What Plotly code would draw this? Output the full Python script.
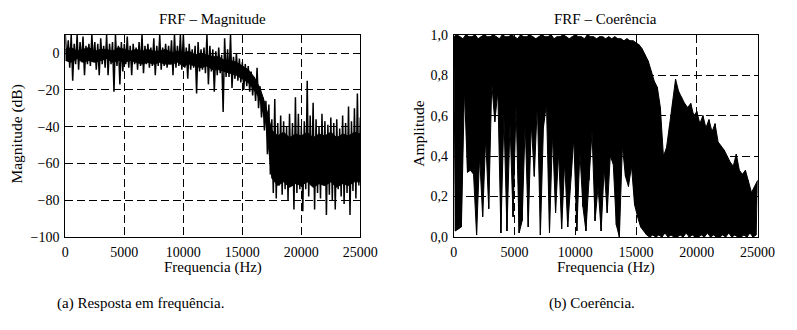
import plotly.graph_objects as go

# Frequency grid (Hz): upper samples on the 250 Hz grid, lower samples between them
freq_hi = list(range(0, 25001, 250))
freq_lo = list(range(125, 25000, 250))
# Coarser grid for the dense core of the magnitude spectrum
freq_core = list(range(0, 25001, 500))

# FRF magnitude (dB): upper / lower excursion of the spectrum in each band
mag_hi = [10, 7, 10, 5, 10, 6, 9, 4, 5, 10,
          6, 5, 8, 4, 10, 5, 6, 10, 4, 6,
          5, 9, 4, 5, 3, 6, 10, 4, 5, 3,
          8, 4, 10, 3, 5, 4, 7, 10, 4, 10,
          10, 3, 5, 2, 4, 6, 2, 3, 10, 4,
          2, 1, 3, -1, 8, 2, 10, -2, 0, -3,
          -5, -6, -7, -10, -13, -8, -18, -24, -26, -28,
          -36, -25, -38, -34, -37, -40, -33, -38, -24, -33,
          -40, -37, -15, -34, -27, -36, -40, -33, -37, -39,
          -35, -38, -36, -41, -34, -38, -29, -37, -30, -22, -35]
mag_lo = [-4, -8, -15, -6, -9, -5, -12, -6, -7, -5,
          -9, -12, -6, -8, -12, -6, -21, -7, -17, -10,
          -6, -8, -12, -6, -9, -7, -11, -6, -8, -7,
          -12, -7, -9, -7, -8, -6, -12, -8, -7, -9,
          -8, -14, -9, -8, -22, -10, -9, -11, -17, -10,
          -21, -12, -11, -32, -13, -13, -19, -14, -15, -16,
          -20, -18, -21, -23, -26, -30, -35, -42, -55, -66,
          -76, -79, -72, -77, -74, -80, -72, -85, -76, -74,
          -86, -74, -78, -72, -85, -76, -79, -72, -88, -77,
          -80, -85, -74, -78, -82, -76, -88, -75, -79, -72]
# Dense core of the magnitude spectrum (dB), top and bottom
mag_core_hi = [2, 3, 1, 2, 3, 1, 2, 2, 1, 3,
               2, 1, 2, 1, 2, 1, 1, 2, 0, 1,
               0, 1, -1, 0, -1, -2, -2, -4, -4, -5,
               -7, -9, -13, -19, -29, -42, -45, -43, -46, -44,
               -45, -43, -46, -44, -45, -43, -46, -44, -45, -43, -44]
mag_core_lo = [-4, -5, -3, -5, -4, -5, -4, -3, -5, -4,
               -5, -4, -5, -6, -5, -6, -5, -6, -6, -5,
               -7, -6, -7, -8, -7, -9, -9, -10, -11, -12,
               -14, -16, -20, -25, -38, -68, -72, -70, -73, -71,
               -72, -70, -73, -71, -72, -70, -73, -71, -72, -70, -70]

# Coherence: upper / lower excursion in each band
coh_hi = [0.99, 1.0, 0.99, 0.98, 1.0, 0.99, 0.99, 1.0, 0.98, 0.99,
          1.0, 0.99, 0.99, 1.0, 0.99, 0.98, 1.0, 0.99, 0.99, 1.0,
          0.99, 0.98, 1.0, 0.99, 0.99, 1.0, 0.99, 0.98, 0.99, 1.0,
          0.99, 0.99, 1.0, 0.98, 0.99, 0.99, 1.0, 0.99, 0.98, 0.99,
          1.0, 0.99, 0.99, 0.98, 1.0, 0.99, 0.99, 0.98, 0.99, 0.99,
          0.98, 0.99, 0.98, 0.99, 0.98, 0.98, 0.97, 0.98, 0.97, 0.97,
          0.96, 0.95, 0.93, 0.90, 0.87, 0.82, 0.77, 0.74, 0.64, 0.40,
          0.44, 0.55, 0.66, 0.78, 0.72, 0.69, 0.66, 0.64, 0.66, 0.60,
          0.62, 0.56, 0.60, 0.54, 0.58, 0.52, 0.56, 0.47, 0.45, 0.43,
          0.40, 0.37, 0.35, 0.41, 0.33, 0.31, 0.33, 0.28, 0.22, 0.25, 0.28]
coh_lo = [0.03, 0.04, 0.05, 0.73, 0.32, 0.33, 0.31, 0.01, 0.40, 0.10,
          0.49, 0.14, 0.76, 0.57, 0.72, 0.02, 0.60, 0.03, 0.56, 0.10,
          0.65, 0.02, 0.08, 0.56, 0.05, 0.56, 0.30, 0.66, 0.01, 0.54,
          0.66, 0.02, 0.51, 0.12, 0.42, 0.04, 0.37, 0.05, 0.30, 0.49,
          0.03, 0.42, 0.15, 0.03, 0.28, 0.52, 0.08, 0.25, 0.03, 0.34,
          0.12, 0.40, 0.36, 0.06, 0.00, 0.45, 0.30, 0.25, 0.35, 0.16,
          0.10, 0.05, 0.03, 0.01, 0.00, 0.01, 0.00, 0.01, 0.00, 0.02,
          0.00, 0.01, 0.00, 0.00, 0.01, 0.00, 0.02, 0.00, 0.01, 0.00,
          0.00, 0.01, 0.00, 0.02, 0.00, 0.01, 0.00, 0.00, 0.01, 0.00,
          0.02, 0.00, 0.01, 0.00, 0.00, 0.01, 0.00, 0.02, 0.00, 0.01]

# Tick positions and labels
freq_ticks = [0, 5000, 10000, 15000, 20000, 25000]
freq_tick_labels = ["0", "5000", "10000", "15000", "20000", "25000"]
mag_ticks = [-100, -80, -60, -40, -20, 0]
mag_tick_labels = ["\u2212100", "\u221280", "\u221260", "\u221240", "\u221220", "0"]
coh_ticks = [0.0, 0.2, 0.4, 0.6, 0.8, 1.0]
coh_tick_labels = ["0,0", "0,2", "0,4", "0,6", "0,8", "1,0"]

FONT = "Liberation Serif"
W, H = 797, 330

fig = go.Figure()


def interleave(xa, ya, xb, yb):
    xs, ys = [], []
    for i in range(len(xa)):
        xs.append(xa[i]); ys.append(ya[i])
        if i < len(xb):
            xs.append(xb[i]); ys.append(yb[i])
    return xs, ys


def add_fill(x_lo, lo, x_hi, hi, xa, ya):
    """Solid black region between a lower and an upper curve."""
    edge = dict(color="black", width=1)
    fig.add_trace(go.Scatter(x=x_lo, y=lo, mode="lines", line=edge,
                             xaxis=xa, yaxis=ya, hoverinfo="skip"))
    fig.add_trace(go.Scatter(x=x_hi, y=hi, mode="lines", line=edge,
                             fill="tonexty", fillcolor="black",
                             xaxis=xa, yaxis=ya, hoverinfo="skip"))


# Magnitude: dense core plus the individual excursions drawn as a trace
add_fill(freq_core, mag_core_lo, freq_core, mag_core_hi, "x", "y")
mx, my = interleave(freq_hi, mag_hi, freq_lo, mag_lo)
fig.add_trace(go.Scatter(x=mx, y=my, mode="lines",
                         line=dict(color="black", width=1.5),
                         xaxis="x", yaxis="y", hoverinfo="skip"))

# Coherence: region between the lower and upper excursions
add_fill(freq_lo, coh_lo, freq_hi, coh_hi, "x2", "y2")
cx, cy = interleave(freq_hi, coh_hi, freq_lo, coh_lo)
fig.add_trace(go.Scatter(x=cx, y=cy, mode="lines",
                         line=dict(color="black", width=1),
                         xaxis="x2", yaxis="y2", hoverinfo="skip"))

axis_common = dict(
    showline=True, mirror=True, linecolor="black", linewidth=1,
    showgrid=True, gridcolor="black", gridwidth=1, griddash="8px,4px",
    zeroline=False, ticks="outside", ticklen=2, tickcolor="rgba(0,0,0,0)",
    tickfont=dict(family=FONT, size=14, color="black"),
    tickmode="array",
)

y0, y1 = 1 - 241 / H, 1 - 29 / H
fig.update_layout(
    width=W, height=H,
    margin=dict(l=0, r=0, t=0, b=0),
    paper_bgcolor="white", plot_bgcolor="white",
    showlegend=False,
    font=dict(family=FONT, color="black"),
    xaxis=dict(domain=[64 / W, 367 / W], range=[0, 25000],
               tickvals=freq_ticks, ticktext=freq_tick_labels,
               anchor="y", **axis_common),
    yaxis=dict(domain=[y0, y1], range=[-100, 10],
               tickvals=mag_ticks, ticktext=mag_tick_labels,
               anchor="x", **axis_common),
    xaxis2=dict(domain=[463 / W, 775 / W], range=[0, 25000],
                tickvals=freq_ticks, ticktext=freq_tick_labels,
                anchor="y2", **axis_common),
    yaxis2=dict(domain=[y0, y1], range=[0, 1],
                tickvals=coh_ticks, ticktext=coh_tick_labels,
                anchor="x2", **axis_common),
)


def label(text, x, y, size, angle=0):
    fig.add_annotation(text=text, x=x / W, y=1 - y / H, xref="paper", yref="paper",
                       showarrow=False, textangle=angle,
                       xanchor="center", yanchor="middle",
                       font=dict(family=FONT, size=size, color="black"))


label("FRF \u2013 Magnitude", 215.5, 13, 15)
label("FRF \u2013 Coerência", 619, 13, 15)
label("Frequencia (Hz)", 215.5, 273, 15)
label("Frequencia (Hz)", 619, 273, 15)
label("Magnitude (dB)", 14, 133, 15.5, -90)
label("Amplitude", 427, 133, 15.5, -90)
label("(a) Resposta em frequência.", 141, 311, 15)
label("(b) Coerência.", 605, 311, 15)

# Page without body margin so the figure fills the window exactly
fig.write_html(
    "out.html",
    post_script="document.body.style.margin='0px';"
                "document.documentElement.style.overflow='hidden';",
)
